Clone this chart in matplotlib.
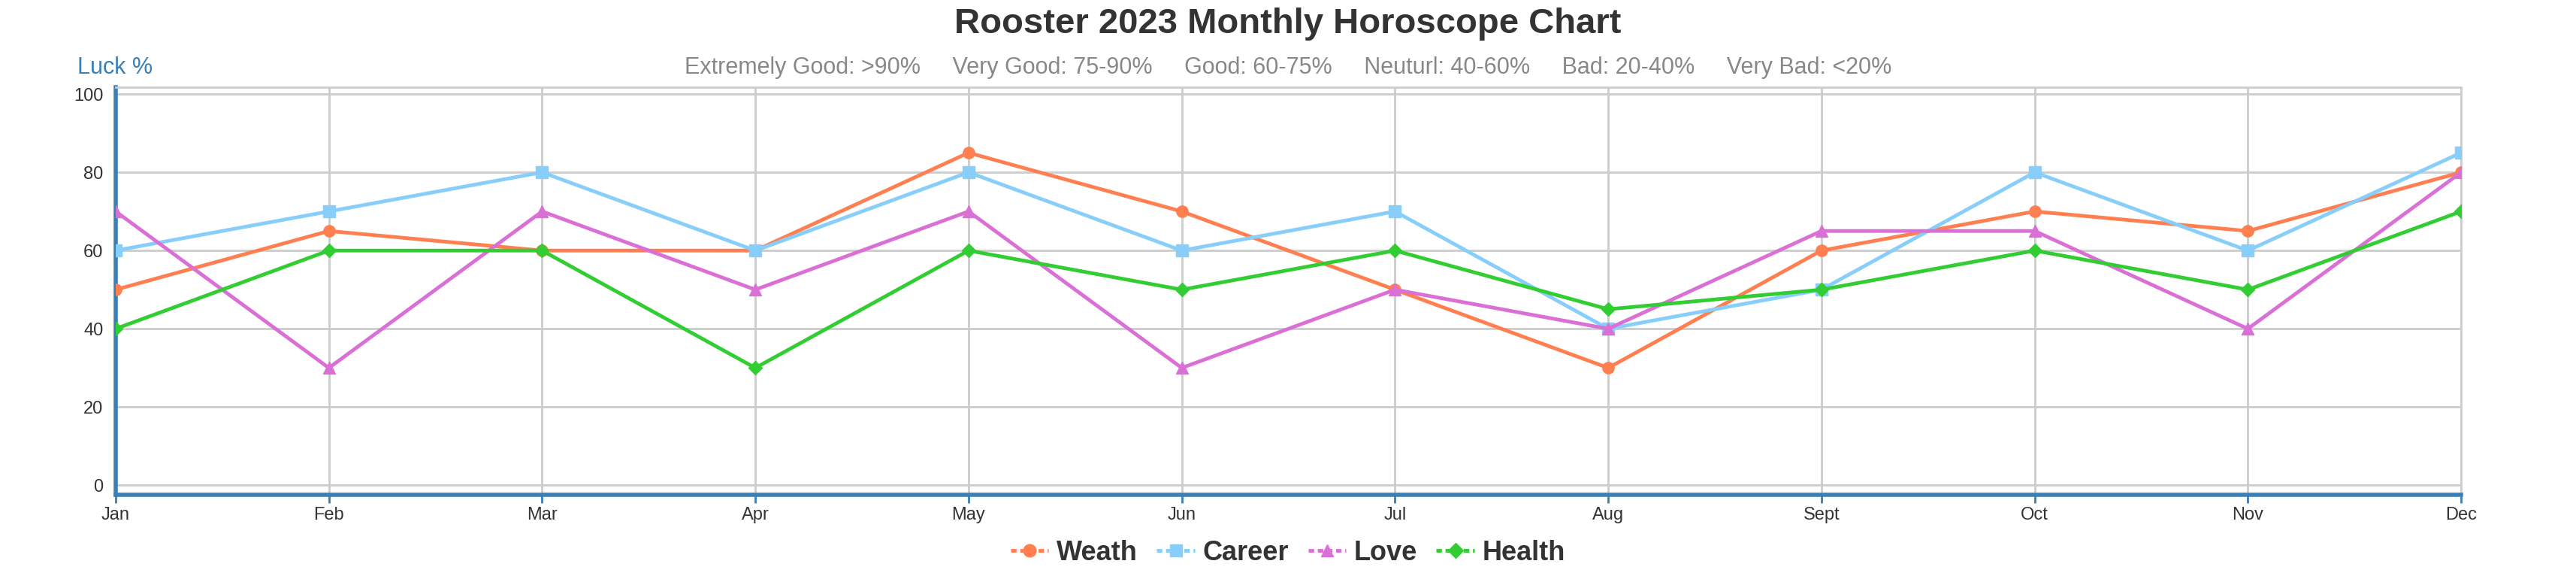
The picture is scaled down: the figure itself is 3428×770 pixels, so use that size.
import matplotlib
matplotlib.use("Agg")
import matplotlib.pyplot as plt
from matplotlib.lines import Line2D

months = ["Jan","Feb","Mar","Apr","May","Jun","Jul","Aug","Sept","Oct","Nov","Dec"]
weath = [50,65,60,60,85,70,50,30,60,70,65,80]
career = [60,70,80,60,80,60,70,40,50,80,60,85]
love = [70,30,70,50,70,30,50,40,65,65,40,80]
health = [40,60,60,30,60,50,60,45,50,60,50,70]
yticks = [0,20,40,60,80,100]

plt.rcParams['font.family'] = ['Liberation Sans', 'DejaVu Sans']
fig = plt.figure(figsize=(34.28,7.7), dpi=100)
ax = fig.add_axes([0.0449,0.145,0.9105,0.704])
series = [("Weath",weath,"#FF7F50","o"),("Career",career,"#87CEFA","s"),
          ("Love",love,"#DA70D6","^"),("Health",health,"#32CD32","D")]
x = list(range(len(months)))
handles=[]
for name,vals,c,m in series:
    ax.plot(x,vals,color=c,lw=3.5,marker=m,ms=11 if m!="D" else 9,zorder=3)
    handles.append(Line2D([],[],color=c,lw=3.5,ls=(0,(1.5,1.0)),marker=m,ms=12 if m!="D" else 10,label=name))
ax.set_xlim(0,11)
ax.set_ylim(-2.5,101.7)
ax.set_xticks(x)
ax.set_xticklabels(months)
ax.set_yticks(yticks)
ax.grid(True,color="#cccccc",lw=2)
for s in ["top","right"]:
    ax.spines[s].set_color("#cccccc"); ax.spines[s].set_linewidth(2)
for s in ["left","bottom"]:
    ax.spines[s].set_color("#3A7FB5"); ax.spines[s].set_linewidth(4)
ax.tick_params(axis='both',labelsize=17,colors="#333333",length=8,width=2)
ax.tick_params(axis='y',length=0,pad=12)
for lab in ax.get_yticklabels()+ax.get_xticklabels(): lab.set_color("#333333")
ax.tick_params(axis='x',color="#3A7FB5")
fig.text(0.5,0.958,"Rooster 2023 Monthly Horoscope Chart",ha="center",va="center",fontsize=34,fontweight="bold",color="#333333")
fig.text(0.03,0.883,"Luck %",ha="left",va="center",fontsize=22,color="#3A7FB5")
fig.text(0.5,0.883,"Extremely Good: >90%     Very Good: 75-90%     Good: 60-75%     Neuturl: 40-60%     Bad: 20-40%     Very Bad: <20%",
         ha="center",va="center",fontsize=22,color="#888888")
leg = fig.legend(handles=handles,loc="center",bbox_to_anchor=(0.5,0.045),ncol=4,frameon=False,
                 handlelength=1.4,handletextpad=0.3,columnspacing=0.7,
                 prop={'weight':'bold','size':26})
for t in leg.get_texts(): t.set_color("#333333")
fig.savefig("out.png",dpi=100)
